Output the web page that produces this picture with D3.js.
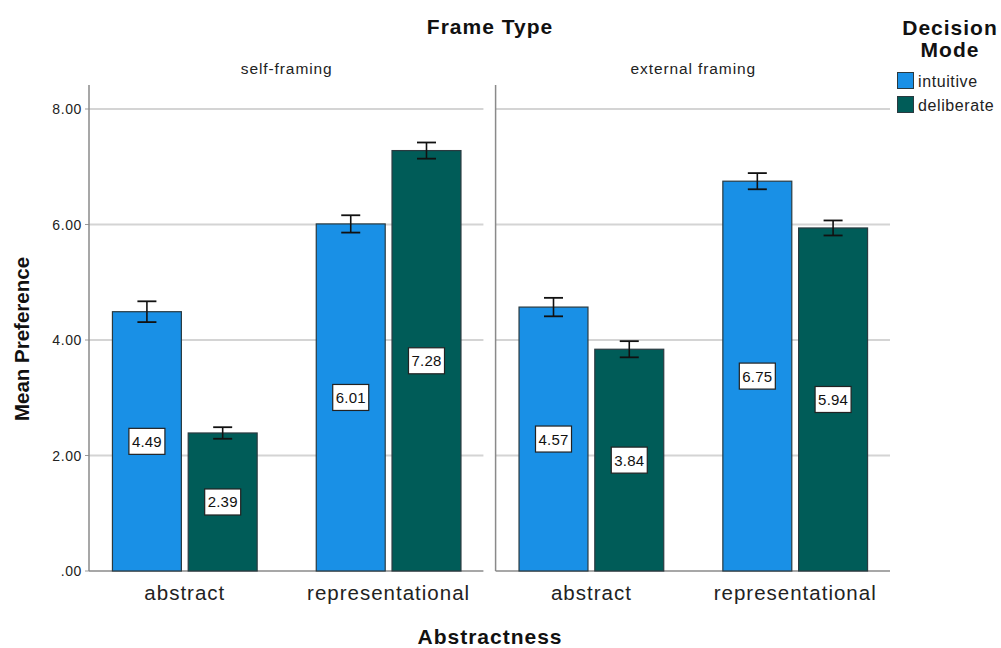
<!DOCTYPE html>
<html>
<head>
<meta charset="utf-8">
<script src="https://cdn.jsdelivr.net/npm/d3@7"></script>
<style>
  html, body { margin: 0; padding: 0; background: #fff; }
  text { font-family: "Liberation Sans", Arial, sans-serif; }
</style>
</head>
<body>
<svg id="chart" width="1001" height="648"></svg>
<script>
// Panels, categories and series
const frames = ["self-framing", "external framing"];
const categories = ["abstract", "representational"];
const modes = ["intuitive", "deliberate"];
const colors = ["#1990e6", "#005c58"];

// Mean preference per frame, category order [abstract, representational]
const intuitiveMeans = [[4.49, 6.01], [4.57, 6.75]];
const deliberateMeans = [[2.39, 7.28], [3.84, 5.94]];
// Half-width of each error bar
const intuitiveErr = [[0.18, 0.15], [0.16, 0.14]];
const deliberateErr = [[0.10, 0.14], [0.14, 0.13]];

const yTicks = [0, 2, 4, 6, 8];

const svg = d3.select("#chart");

const y = d3.scaleLinear().domain([0, 8]).range([571, 109]);
const panel = d3.scaleBand().domain(frames).range([89, 891]).paddingInner(0.0275);
const fmt = v => v === 0 ? ".00" : d3.format(".2f")(v);

// Y axis tick labels
svg.append("g").selectAll("text").data(yTicks).join("text")
  .attr("x", 82).attr("y", d => y(d) + 5)
  .attr("text-anchor", "end").attr("font-size", 14).attr("letter-spacing", 0.6)
  .attr("fill", "#222")
  .text(fmt);

frames.forEach((frame, fi) => {
  const x0 = panel(frame), w = panel.bandwidth();
  const g = svg.append("g");
  const x = d3.scaleBand().domain(categories).range([x0, x0 + w])
    .paddingInner(0.29).paddingOuter(0.115);
  const xm = d3.scaleBand().domain(modes).range([0, x.bandwidth()]).paddingInner(0.09);

  // gridlines
  g.selectAll("line.grid").data(yTicks.filter(d => d > 0)).join("line")
    .attr("x1", x0).attr("x2", x0 + w - 1)
    .attr("y1", d => y(d)).attr("y2", d => y(d))
    .attr("stroke", "#d4d4d4").attr("stroke-width", 2);
  // ticks on the left axis
  if (fi === 0) {
    g.selectAll("line.tick").data(yTicks).join("line")
      .attr("x1", x0 - 4).attr("x2", x0)
      .attr("y1", d => y(d)).attr("y2", d => y(d))
      .attr("stroke", "#999").attr("stroke-width", 1);
  }
  // axis lines
  g.append("line").attr("x1", x0).attr("x2", x0).attr("y1", 85).attr("y2", y(0))
    .attr("stroke", "#8a8a8a").attr("stroke-width", 1.5);
  g.append("line").attr("x1", x0).attr("x2", x0 + w - 1).attr("y1", y(0)).attr("y2", y(0))
    .attr("stroke", "#8a8a8a").attr("stroke-width", 1.5);

  // panel label
  svg.append("text").attr("x", x0 + w / 2).attr("y", 74)
    .attr("text-anchor", "middle").attr("font-size", 15.5).attr("letter-spacing", 0.9)
    .attr("fill", "#222")
    .text(frame);

  const rows = [];
  categories.forEach((c, ci) => {
    rows.push({c, m: "intuitive", v: intuitiveMeans[fi][ci], e: intuitiveErr[fi][ci], col: colors[0]});
    rows.push({c, m: "deliberate", v: deliberateMeans[fi][ci], e: deliberateErr[fi][ci], col: colors[1]});
  });

  const bars = g.selectAll("g.bar").data(rows).join("g")
    .attr("transform", d => `translate(${x(d.c) + xm(d.m)},0)`);
  const bw = xm.bandwidth();
  bars.append("rect")
    .attr("x", 0).attr("width", bw)
    .attr("y", d => y(d.v)).attr("height", d => y(0) - y(d.v))
    .attr("fill", d => d.col).attr("stroke", "#2a3a40").attr("stroke-width", 1.2);
  // error bars
  bars.append("line").attr("x1", bw / 2).attr("x2", bw / 2)
    .attr("y1", d => y(d.v + d.e)).attr("y2", d => y(d.v - d.e))
    .attr("stroke", "#111").attr("stroke-width", 1.6);
  bars.append("line").attr("x1", bw / 2 - 9.5).attr("x2", bw / 2 + 9.5)
    .attr("y1", d => y(d.v + d.e)).attr("y2", d => y(d.v + d.e))
    .attr("stroke", "#111").attr("stroke-width", 1.8);
  bars.append("line").attr("x1", bw / 2 - 9.5).attr("x2", bw / 2 + 9.5)
    .attr("y1", d => y(d.v - d.e)).attr("y2", d => y(d.v - d.e))
    .attr("stroke", "#111").attr("stroke-width", 1.8);
  // value labels
  const lab = bars.append("g")
    .attr("transform", d => `translate(${bw / 2},${(y(d.v) + y(0)) / 2})`);
  lab.append("rect").attr("x", -18).attr("y", -13).attr("width", 36).attr("height", 26)
    .attr("fill", "#fff").attr("stroke", "#222").attr("stroke-width", 1.2);
  lab.append("text").attr("y", 5.5).attr("text-anchor", "middle")
    .attr("font-size", 15).attr("letter-spacing", 0.2).attr("fill", "#111")
    .text(d => d3.format(".2f")(d.v));

  // category labels
  svg.append("g").selectAll("text").data(categories).join("text")
    .attr("x", d => x(d) + x.bandwidth() / 2).attr("y", 600)
    .attr("text-anchor", "middle").attr("font-size", 20.5).attr("letter-spacing", 1)
    .attr("fill", "#222")
    .text(d => d);
});

// Titles
svg.append("text").attr("x", 490).attr("y", 34).attr("text-anchor", "middle")
  .attr("font-size", 21).attr("font-weight", "bold").attr("letter-spacing", 1)
  .attr("fill", "#111").text("Frame Type");
svg.append("text").attr("x", 490).attr("y", 644).attr("text-anchor", "middle")
  .attr("font-size", 21).attr("font-weight", "bold").attr("letter-spacing", 1)
  .attr("fill", "#111").text("Abstractness");
svg.append("text").attr("transform", "translate(29,339) rotate(-90)").attr("text-anchor", "middle")
  .attr("font-size", 20.5).attr("font-weight", "bold")
  .attr("fill", "#111").text("Mean Preference");

// Legend
const leg = svg.append("g");
leg.append("text").attr("x", 950).attr("y", 35).attr("text-anchor", "middle")
  .attr("font-size", 21).attr("font-weight", "bold").attr("letter-spacing", 1)
  .attr("fill", "#111").text("Decision");
leg.append("text").attr("x", 950).attr("y", 57).attr("text-anchor", "middle")
  .attr("font-size", 21).attr("font-weight", "bold").attr("letter-spacing", 1)
  .attr("fill", "#111").text("Mode");
const items = leg.selectAll("g.item").data(modes).join("g")
  .attr("transform", (d, i) => `translate(897.5,${72.5 + i * 24})`);
items.append("rect").attr("width", 16).attr("height", 16)
  .attr("fill", (d, i) => colors[i]).attr("stroke", "#2a3a40").attr("stroke-width", 1);
items.append("text").attr("x", 20.5).attr("y", 14).attr("font-size", 16).attr("letter-spacing", 0.6)
  .attr("fill", "#222").text(d => d);
</script>
</body>
</html>
